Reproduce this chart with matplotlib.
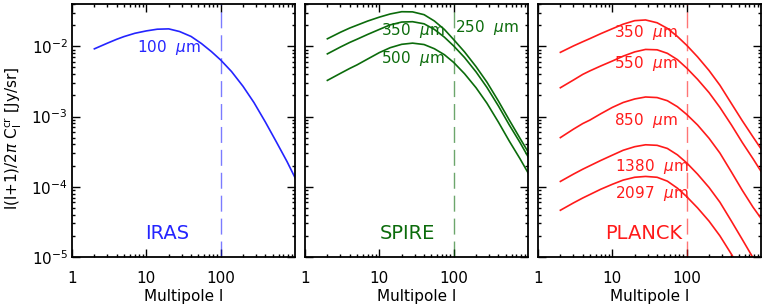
#!/usr/bin/env python3
"""
Cirrus angular power spectra l(l+1)/2pi C_l for IRAS, SPIRE and PLANCK bands.
"""

import matplotlib
matplotlib.use("Agg")
import matplotlib.pyplot as plt
from matplotlib.ticker import LogLocator, NullFormatter

ELL = [2, 3, 4, 5, 7, 10, 14, 20, 28, 40, 55, 75, 100, 140, 200, 280, 400, 560, 780, 1000]

# IRAS
IRAS_100 = [9.20e-3, 1.109e-2, 1.259e-2, 1.374e-2, 1.531e-2, 1.656e-2, 1.750e-2, 1.770e-2,
            1.622e-2, 1.380e-2, 1.096e-2, 8.41e-3, 6.38e-3, 4.37e-3, 2.69e-3, 1.585e-3,
            8.32e-4, 4.37e-4, 2.29e-4, 1.349e-4]

# SPIRE
SPIRE_250 = [1.279e-2, 1.585e-2, 1.820e-2, 1.995e-2, 2.291e-2, 2.600e-2, 2.884e-2, 3.105e-2,
             3.090e-2, 2.818e-2, 2.291e-2, 1.738e-2, 1.245e-2, 8.32e-3, 5.13e-3, 3.09e-3,
             1.660e-3, 8.91e-4, 4.90e-4, 3.16e-4]
SPIRE_350 = [7.80e-3, 9.77e-3, 1.135e-2, 1.259e-2, 1.479e-2, 1.738e-2, 2.018e-2, 2.213e-2,
             2.239e-2, 2.089e-2, 1.738e-2, 1.349e-2, 1.012e-2, 6.92e-3, 4.32e-3, 2.60e-3,
             1.413e-3, 7.59e-4, 4.27e-4, 2.69e-4]
SPIRE_500 = [3.27e-3, 4.12e-3, 4.84e-3, 5.43e-3, 6.61e-3, 8.13e-3, 9.55e-3, 1.067e-2,
             1.109e-2, 1.059e-2, 9.23e-3, 7.59e-3, 5.89e-3, 4.07e-3, 2.57e-3, 1.549e-3,
             8.32e-4, 4.47e-4, 2.51e-4, 1.585e-4]

# PLANCK
PLANCK_350 = [8.20e-3, 1.012e-2, 1.161e-2, 1.288e-2, 1.514e-2, 1.778e-2, 2.065e-2, 2.317e-2,
              2.371e-2, 2.163e-2, 1.799e-2, 1.380e-2, 1.035e-2, 7.08e-3, 4.52e-3, 2.79e-3,
              1.531e-3, 8.71e-4, 5.13e-4, 3.47e-4]
PLANCK_550 = [2.57e-3, 3.31e-3, 3.98e-3, 4.47e-3, 5.25e-3, 6.17e-3, 7.24e-3, 8.32e-3,
              9.02e-3, 8.91e-3, 7.94e-3, 6.46e-3, 4.90e-3, 3.39e-3, 2.19e-3, 1.349e-3,
              7.59e-4, 4.27e-4, 2.51e-4, 1.660e-4]
PLANCK_850 = [5.01e-4, 6.61e-4, 7.94e-4, 8.91e-4, 1.096e-3, 1.349e-3, 1.585e-3, 1.778e-3,
              1.897e-3, 1.862e-3, 1.679e-3, 1.380e-3, 1.072e-3, 7.59e-4, 4.90e-4, 3.02e-4,
              1.622e-4, 8.91e-5, 5.13e-5, 3.55e-5]
PLANCK_1380 = [1.191e-4, 1.514e-4, 1.778e-4, 1.995e-4, 2.371e-4, 2.818e-4, 3.31e-4, 3.72e-4,
               3.96e-4, 3.89e-4, 3.51e-4, 2.85e-4, 2.19e-4, 1.514e-4, 9.77e-5, 6.03e-5,
               3.24e-5, 1.778e-5, 9.77e-6, 6.31e-6]
PLANCK_2097 = [4.63e-5, 5.89e-5, 6.92e-5, 7.76e-5, 9.23e-5, 1.084e-4, 1.245e-4, 1.365e-4,
               1.403e-4, 1.365e-4, 1.202e-4, 9.55e-5, 7.24e-5, 5.01e-5, 3.24e-5, 2.00e-5,
               1.096e-5, 6.03e-6, 3.39e-6, 2.24e-6]

L_CUT = 100

BLUE = "#2424ff"
GREEN = "#0b6b0b"
RED = "#ff1a1a"

# (instrument, colour, [(curve, label, label_x, label_y)], instrument label x)
PANELS = [
    ("IRAS", BLUE, [(IRAS_100, "100", 7.5, 9.7e-3)], 0.428),
    ("SPIRE", GREEN, [(SPIRE_250, "250", 105, 1.88e-2),
                      (SPIRE_350, "350", 10.4, 1.68e-2),
                      (SPIRE_500, "500", 10.4, 6.7e-3)], 0.46),
    ("PLANCK", RED, [(PLANCK_350, "350", 10.4, 1.59e-2),
                     (PLANCK_550, "550", 10.4, 5.74e-3),
                     (PLANCK_850, "850", 10.4, 8.8e-4),
                     (PLANCK_1380, "1380", 10.7, 1.92e-4),
                     (PLANCK_2097, "2097", 10.7, 8.0e-5)], 0.475),
]

W, H = 763, 306
LEFTS = [72, 305, 538]
AX_W = 223
AX_TOP, AX_BOT = 4, 257


def style_axis(ax, show_ylabels):
    ax.set_xscale("log")
    ax.set_yscale("log")
    ax.set_xlim(1, 1000)
    ax.set_ylim(1e-5, 4e-2)
    ax.set_xticks([1, 10, 100])
    ax.set_xticklabels(["1", "10", "100"])
    ax.xaxis.set_minor_locator(LogLocator(base=10, subs=range(2, 10), numticks=20))
    ax.xaxis.set_minor_formatter(NullFormatter())
    ax.set_yticks([1e-5, 1e-4, 1e-3, 1e-2])
    ax.yaxis.set_minor_locator(LogLocator(base=10, subs=range(2, 10), numticks=20))
    ax.yaxis.set_minor_formatter(NullFormatter())
    ax.tick_params(which="both", direction="in", top=True, right=True, width=1.0)
    ax.tick_params(which="major", length=5.5)
    ax.tick_params(which="minor", length=2.5)
    ax.tick_params(axis="x", which="major", pad=10, labelsize=11)
    ax.tick_params(axis="y", which="major", pad=3, labelsize=11)
    if not show_ylabels:
        ax.set_yticklabels([])
    for sp in ax.spines.values():
        sp.set_linewidth(1.3)
    ax.set_xlabel("Multipole l", fontsize=11)
    ax.xaxis.set_label_coords(0.5, -0.126)


def main():
    fig = plt.figure(figsize=(W / 100, H / 100), dpi=100)
    for i, (name, color, curves, name_x) in enumerate(PANELS):
        ax = fig.add_axes([LEFTS[i] / W, 1 - AX_BOT / H, AX_W / W, (AX_BOT - AX_TOP) / H])
        for vals, lab, lx, ly in curves:
            ax.plot(ELL, vals, color=color, lw=1.2)
            ax.text(lx, ly, f"{lab}  $\\mu$m", color=color, fontsize=11,
                    ha="left", va="center")
        ax.axvline(L_CUT, color=color, lw=1.0, alpha=0.6, dashes=(11.5, 5))
        ax.text(name_x, 0.091, name, transform=ax.transAxes, color=color,
                fontsize=14, ha="center", va="center")
        style_axis(ax, i == 0)

    fig.text(13 / W, 1 - 138 / H,
             "l(l+1)/2$\\pi$ C$_\\mathrm{l}^\\mathrm{cr}$ [Jy/sr]",
             rotation=90, ha="center", va="center", fontsize=11)

    fig.savefig("out.png", dpi=100)


if __name__ == "__main__":
    main()
